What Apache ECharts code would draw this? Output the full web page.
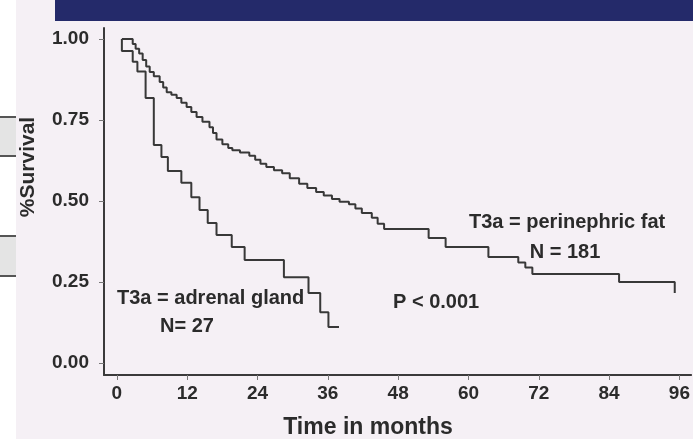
<!DOCTYPE html>
<html><head><meta charset="utf-8">
<script src="https://cdn.jsdelivr.net/npm/echarts@6/dist/echarts.min.js"></script>
<style>
html,body{margin:0;padding:0;background:#ffffff;}
#wrap{position:relative;width:693px;height:439px;overflow:hidden;}
#page{position:absolute;left:16px;top:0;width:677px;height:439px;background:#f5f0f5;}
#banner{position:absolute;left:55px;top:0;width:638px;height:21px;background:#242a6a;}
.gbox{position:absolute;left:0;width:16px;background:#e4e4e4;border-top:2px solid #555;border-bottom:2px solid #555;}
#c{position:absolute;left:0;top:0;width:693px;height:439px;}
</style>
</head><body>
<div id="wrap">
<div id="page"></div>
<div id="banner"></div>
<div class="gbox" style="top:116px;height:37px;"></div>
<div class="gbox" style="top:235px;height:38px;"></div>
<div id="c"></div>
</div>
<script>
// tick positions
const xTicks = [0, 12, 24, 36, 48, 60, 72, 84, 96];
const yTicks = [0, 0.25, 0.5, 0.75, 1];

// T3a = perinephric fat (N = 181): step times (months) and survival
const periTime = [0.85, 2.7, 3.2, 3.8, 4.4, 5.0, 5.6, 6.3, 7.3, 7.9, 8.5, 9.3, 10.2, 11.0, 11.9, 12.7, 13.6, 14.6, 15.8, 16.4, 17.0, 18.0, 19.0, 19.7, 21.0, 22.6, 23.6, 24.5, 25.5, 26.8, 28.2, 29.5, 31.1, 32.5, 34.0, 35.3, 36.7, 38.0, 39.6, 40.7, 41.8, 43.5, 44.5, 45.6, 53.2, 56.1, 63.4, 68.5, 69.7, 70.9, 85.7, 95.2];
const periSurv = [1.0, 0.985, 0.97, 0.955, 0.935, 0.915, 0.898, 0.885, 0.867, 0.85, 0.836, 0.828, 0.818, 0.803, 0.79, 0.775, 0.759, 0.745, 0.728, 0.71, 0.69, 0.675, 0.664, 0.657, 0.65, 0.64, 0.627, 0.615, 0.605, 0.595, 0.586, 0.57, 0.553, 0.54, 0.528, 0.517, 0.506, 0.498, 0.49, 0.477, 0.463, 0.448, 0.43, 0.414, 0.386, 0.358, 0.327, 0.31, 0.295, 0.275, 0.25, 0.216];

// T3a = adrenal gland (N = 27)
const adrTime = [0.85, 0.85, 2.7, 3.5, 4.9, 6.3, 7.6, 8.7, 11.0, 12.7, 14.1, 15.5, 17.0, 19.6, 21.8, 28.5, 32.7, 34.7, 36.1, 37.9];
const adrSurv = [1.0, 0.963, 0.93, 0.90, 0.818, 0.673, 0.636, 0.593, 0.556, 0.512, 0.472, 0.432, 0.395, 0.358, 0.318, 0.265, 0.216, 0.157, 0.111, 0.111];

const zip = (a, b) => a.map((v, i) => [v, b[i]]);
const INK = '#2b2b2b';
const FONT = '"Liberation Sans", Arial, sans-serif';

const chart = echarts.init(document.getElementById('c'), null, {renderer: 'canvas'});
chart.setOption({
  backgroundColor: 'transparent',
  animation: false,
  grid: {left: 104, right: 0, top: 28, bottom: 64, containLabel: false},
  xAxis: {
    type: 'value', min: -2.2, max: 98,
    axisLine: {show: true, onZero: false, lineStyle: {color: '#3a3a3a', width: 2}},
    axisTick: {show: true, customValues: xTicks, length: 5, lineStyle: {color: '#777', width: 1}},
    axisLabel: {customValues: xTicks, color: INK, fontFamily: FONT, fontWeight: 'bold', fontSize: 19, margin: 9},
    splitLine: {show: false}
  },
  yAxis: {
    type: 'value', min: -0.037, max: 1.034,
    axisLine: {show: true, onZero: false, lineStyle: {color: '#3a3a3a', width: 2}},
    axisTick: {show: true, customValues: yTicks, length: 5, lineStyle: {color: '#777', width: 1}},
    axisLabel: {customValues: yTicks, color: INK, fontFamily: FONT, fontWeight: 'bold', fontSize: 19, margin: 15,
      padding: [10, 0, 0, 0], formatter: v => v.toFixed(2)},
    splitLine: {show: false}
  },
  series: [
    {type: 'line', step: 'end', data: zip(periTime, periSurv), symbol: 'none',
     lineStyle: {color: '#383838', width: 2}},
    {type: 'line', step: 'end', data: zip(adrTime, adrSurv), symbol: 'none',
     lineStyle: {color: '#383838', width: 2}}
  ],
  graphic: [
    {type: 'text', x: 469, y: 222, style: {text: 'T3a = perinephric fat', fill: INK, font: 'bold 20px ' + FONT, textVerticalAlign: 'middle'}},
    {type: 'text', x: 565, y: 252, style: {text: 'N = 181', fill: INK, font: 'bold 20px ' + FONT, textAlign: 'center', textVerticalAlign: 'middle'}},
    {type: 'text', x: 117, y: 298, style: {text: 'T3a = adrenal gland', fill: INK, font: 'bold 20px ' + FONT, textVerticalAlign: 'middle'}},
    {type: 'text', x: 160, y: 326, style: {text: 'N= 27', fill: INK, font: 'bold 20px ' + FONT, textVerticalAlign: 'middle'}},
    {type: 'text', x: 393, y: 302, style: {text: 'P < 0.001', fill: INK, font: 'bold 20px ' + FONT, textVerticalAlign: 'middle'}},
    {type: 'text', x: 368, y: 428, style: {text: 'Time in months', fill: INK, font: 'bold 23px ' + FONT, textAlign: 'center', textVerticalAlign: 'middle'}},
    {type: 'text', x: 28, y: 167, rotation: Math.PI / 2, style: {text: '%Survival', fill: INK, font: 'bold 21px ' + FONT, textAlign: 'center', textVerticalAlign: 'middle'}}
  ]
});
</script>
</body></html>
